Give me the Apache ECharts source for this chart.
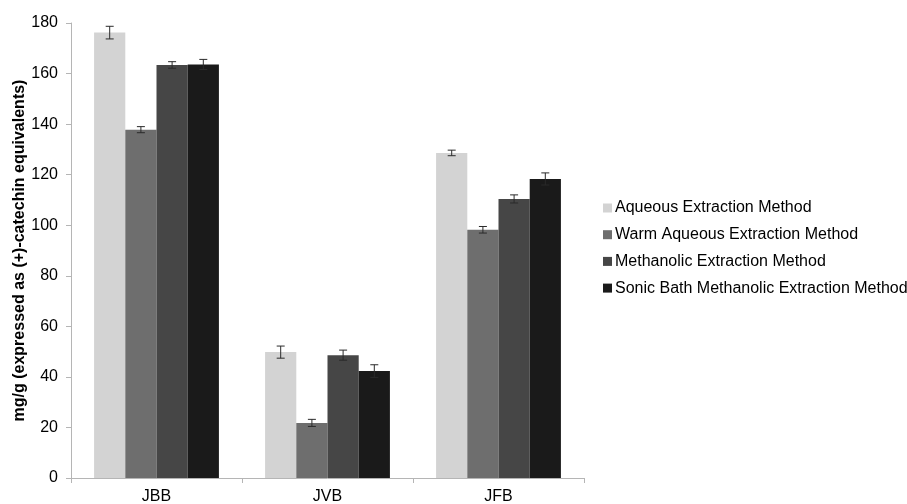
<!DOCTYPE html>
<html>
<head>
<meta charset="utf-8">
<script src="https://cdn.jsdelivr.net/npm/echarts@6/dist/echarts.min.js"></script>
<style>
  html, body { margin: 0; padding: 0; background: #fff; }
  #main { width: 907px; height: 504px; }
</style>
</head>
<body>
<div id="main"></div>
<script>
// data
var categories = ['JBB', 'JVB', 'JFB'];
var seriesNames = [
    'Aqueous Extraction Method',
    'Warm Aqueous Extraction Method',
    'Methanolic Extraction Method',
    'Sonic Bath Methanolic Extraction Method'
];
var aqueous = [176.2, 49.8, 128.6];
var warmAqueous = [137.8, 21.8, 98.2];
var methanolic = [163.4, 48.6, 110.4];
var sonicBath = [163.6, 42.3, 118.3];
var aqueousErr = [2.5, 2.4, 1.1];
var warmAqueousErr = [1.2, 1.4, 1.3];
var methanolicErr = [1.3, 2.0, 1.6];
var sonicBathErr = [2.0, 2.5, 2.4];
var colors = ['#d3d3d3', '#6e6e6e', '#464646', '#1a1a1a'];

var values = [aqueous, warmAqueous, methanolic, sonicBath];
var errors = [aqueousErr, warmAqueousErr, methanolicErr, sonicBathErr];
var catGap = 0.27;

(function () {
    var myChart = echarts.init(document.getElementById('main'));

    var series = [];
    values.forEach(function (vals, i) {
        series.push({
            name: seriesNames[i],
            type: 'bar',
            data: vals,
            barGap: '0%',
            barCategoryGap: (catGap * 100) + '%',
            itemStyle: { color: colors[i] },
            emphasis: { disabled: true }
        });
    });

    // error bars
    values.forEach(function (vals, i) {
        var errData = vals.map(function (v, k) {
            return [k, v - errors[i][k], v + errors[i][k]];
        });
        series.push({
            type: 'custom',
            name: seriesNames[i] + ' err',
            data: errData,
            z: 10,
            silent: true,
            renderItem: function (params, api) {
                var k = api.value(0);
                var lo = api.coord([k, api.value(1)]);
                var hi = api.coord([k, api.value(2)]);
                var catW = api.size([1, 0])[0];
                var barW = catW * (1 - catGap) / 4;
                var x = lo[0] + (i - 1.5) * barW;
                var cap = 4;
                var st = { stroke: '#2a2a2a', lineWidth: 1 };
                return {
                    type: 'group',
                    children: [
                        { type: 'line', shape: { x1: x, y1: lo[1], x2: x, y2: hi[1] }, style: st },
                        { type: 'line', shape: { x1: x - cap, y1: lo[1], x2: x + cap, y2: lo[1] }, style: st },
                        { type: 'line', shape: { x1: x - cap, y1: hi[1], x2: x + cap, y2: hi[1] }, style: st }
                    ]
                };
            }
        });
    });

    var option = {
        animation: false,
        textStyle: { fontFamily: 'Liberation Sans, Arial, sans-serif' },
        grid: { left: 71, top: 23, width: 513, height: 455, outerBoundsMode: 'none', containLabel: false },
        legend: {
            orient: 'vertical',
            left: 598,
            top: 195,
            icon: 'rect',
            itemWidth: 9,
            itemHeight: 9,
            itemGap: 10.7,
            data: seriesNames,
            textStyle: { color: '#000', fontSize: 16, lineHeight: 16, padding: [0, 0, 0, -2] }
        },
        xAxis: {
            type: 'category',
            data: categories,
            axisLine: { lineStyle: { color: '#b5b5b5' } },
            axisTick: { show: true, length: 5, lineStyle: { color: '#b5b5b5' } },
            axisLabel: { color: '#000', fontSize: 16, margin: 11 }
        },
        yAxis: {
            type: 'value',
            min: 0,
            max: 180,
            interval: 20,
            name: 'mg/g (expressed as (+)-catechin equivalents)',
            nameLocation: 'middle',
            nameGap: 43,
            nameMoveOverlap: false,
            nameTextStyle: { color: '#000', fontSize: 16, fontWeight: 'bold' },
            axisLine: { show: true, lineStyle: { color: '#b5b5b5' } },
            axisTick: { show: true, length: 5, lineStyle: { color: '#b5b5b5' } },
            splitLine: { show: false },
            axisLabel: { color: '#000', fontSize: 16, margin: 13 }
        },
        series: series
    };

    myChart.setOption(option);
    window.addEventListener('resize', function () {
        myChart.resize();
    });
})();
</script>
</body>
</html>
